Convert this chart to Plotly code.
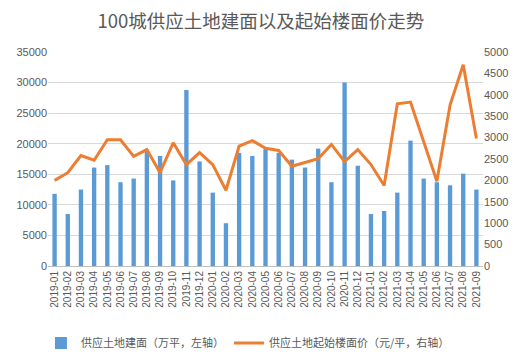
import plotly.graph_objects as go

months = [f"{y}-{m:02d}" for y in (2019, 2020, 2021) for m in range(1, 13)][:33]
area = [11800, 8500, 12500, 16100, 16500, 13700, 14300, 19000, 18000, 14000,
        28800, 17100, 12000, 7000, 18500, 18000, 19100, 18500, 17400, 16100,
        19200, 13700, 30000, 16400, 8500, 9000, 12000, 20500, 14300, 13700,
        13200, 15100, 12500]
price = [2000, 2180, 2580, 2470, 2950, 2950, 2560, 2720, 2180, 2880,
         2370, 2650, 2370, 1770, 2800, 2930, 2750, 2700, 2330, 2420,
         2510, 2840, 2440, 2720, 2370, 1880, 3790, 3830, 2930, 1980,
         3760, 4700, 2980]

font_cjk = "Noto Sans CJK SC"
gray = "#595959"

fig = go.Figure()
fig.add_trace(go.Bar(x=months, y=area, name="供应土地建面（万平，左轴）",
                     marker=dict(color="#5B9BD5", line=dict(width=0))))
fig.add_trace(go.Scatter(x=months, y=price, name="供应土地起始楼面价（元/平，右轴）",
                         mode="lines", line=dict(color="#ED7D31", width=3), yaxis="y2"))

fig.update_layout(
    width=516, height=354,
    margin=dict(l=40, r=41, t=44, b=96, autoexpand=False),
    paper_bgcolor="white", plot_bgcolor="white",
    title=dict(text="100城供应土地建面以及起始楼面价走势", x=0.49, xanchor="center",
               y=0.963, yanchor="middle",
               font=dict(family=font_cjk, size=18.5, color=gray)),
    bargap=0.67,
    font=dict(family="Liberation Sans, Arial", size=11, color=gray),
    xaxis=dict(type="category", tickangle=-90, tickfont=dict(size=10, color=gray),
               showline=True, linecolor="#BFBFBF", linewidth=1, ticks="",
               showgrid=False, automargin=False),
    yaxis=dict(range=[0, 35000], dtick=5000, tickformat="d", showgrid=True,
               gridcolor="#D9D9D9", gridwidth=1, zeroline=False, ticks="",
               tickfont=dict(size=11, color=gray), automargin=False),
    yaxis2=dict(range=[0, 5000], dtick=500, tickformat="d", overlaying="y", side="right",
                showgrid=False, zeroline=False, ticks="", automargin=False,
                tickfont=dict(size=11, color=gray)),
    legend=dict(orientation="h", xref="container", x=0.465, xanchor="center",
                yref="container", y=0.054, yanchor="middle",
                font=dict(family=font_cjk, size=11, color=gray),
                itemwidth=30),
    showlegend=True,
)

fig.write_html("out.html")
